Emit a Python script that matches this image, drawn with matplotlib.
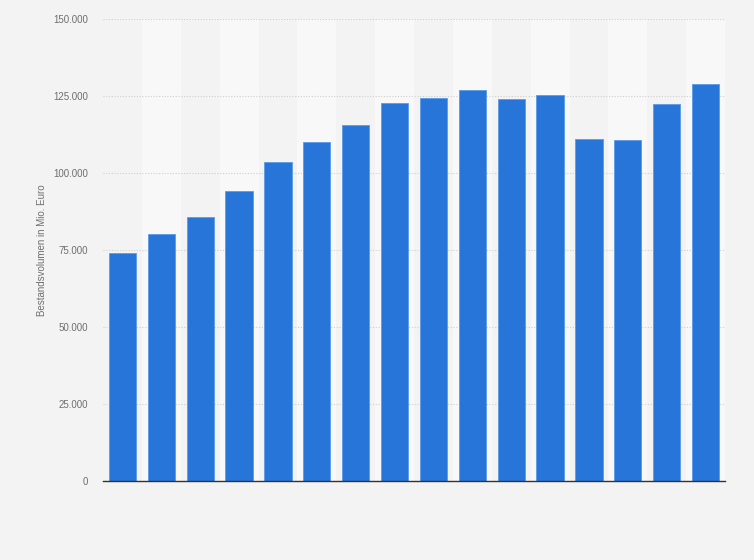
import matplotlib.pyplot as plt
import matplotlib.ticker as mticker
import numpy as np

plt.rcParams["font.family"] = ["Liberation Sans", "DejaVu Sans"]

# ── Data ──────────────────────────────────────────────────────────────────────
VALUES = [74.0, 80.3, 85.7, 94.3, 103.6, 110.2, 115.7, 122.8,
          124.5, 126.8, 124.1, 125.4, 111.0, 110.8, 122.5, 129.0]
VALUES = [v * 1000 for v in VALUES]
Y_TICKS = [0, 25000, 50000, 75000, 100000, 125000, 150000]
Y_LABEL = "Bestandsvolumen in Mio. Euro"

# ── Style ─────────────────────────────────────────────────────────────────────
BG = "#f3f3f3"
BAND = "#f8f8f8"
BLUE = "#2775d9"
EDGE = "#5b9be8"

fig = plt.figure(figsize=(7.54, 5.6), dpi=100, facecolor=BG)
ax = fig.add_axes([103 / 754, 1 - 481 / 560, 622 / 754, 462 / 560])
ax.set_facecolor(BG)

x = np.arange(len(VALUES))

# alternating column bands
for i in x:
    if i % 2 == 1:
        ax.axvspan(i - 0.5, i + 0.5, color=BAND, zorder=0, linewidth=0)

ax.bar(x, VALUES, width=0.7, color=BLUE, edgecolor=EDGE, linewidth=0.6, zorder=3)

ax.set_xlim(-0.5, len(VALUES) - 0.5)
ax.set_ylim(0, 150000)
ax.set_yticks(Y_TICKS)
ax.yaxis.set_major_formatter(
    mticker.FuncFormatter(lambda v, _: f"{int(v):,}".replace(",", ".")))
ax.tick_params(axis="y", labelsize=7, colors="#6e6e6e", length=0, pad=11)
ax.set_xticks([])

ax.yaxis.grid(True, color="#cfcfcf", linestyle=(0, (1, 1.5)), linewidth=0.8, zorder=1)
ax.set_axisbelow(False)

for s in ["top", "right", "left"]:
    ax.spines[s].set_visible(False)
ax.spines["bottom"].set_color("#333333")
ax.spines["bottom"].set_linewidth(1.0)
ax.spines["bottom"].set_zorder(4)

ax.set_ylabel(Y_LABEL, fontsize=7, color="#6e6e6e", labelpad=4)

fig.savefig("out.png", dpi=100, facecolor=BG)
